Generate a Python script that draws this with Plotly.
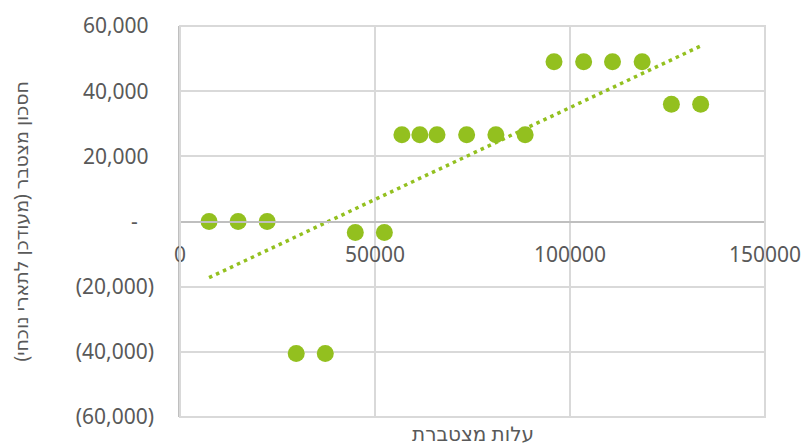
import numpy as np
import plotly.graph_objects as go

# Cumulative cost (x) and cumulative savings (y)
cost = [7450, 14900, 22350, 29800, 37250, 44950, 52400, 56900, 61500, 65900,
        73500, 81000, 88500, 95900, 103500, 110900, 118500, 126000, 133500]
savings = [0, 0, 0, -40500, -40500, -3400, -3400, 26600, 26600, 26600,
           26600, 26600, 26600, 49000, 49000, 49000, 49000, 36000, 36000]

y_tickvals = [60000, 40000, 20000, 0, -20000, -40000, -60000]
y_ticktext = ["60,000\u00a0", "40,000\u00a0", "20,000\u00a0", "-\u00a0\u00a0\u00a0",
              "(20,000)", "(40,000)", "(60,000)"]
x_tickvals = [0, 50000, 100000, 150000]
x_ticktext = ["0", "50000", "100000", "150000"]

x_title = "עלות מצטברת"
y_title = "חסכון מצטבר (מעודכן לתארי נוכחי)"

GREEN = "#93c01f"
GRID = "#d9d9d9"
AXIS = "#bfbfbf"
TEXT = "#595959"
FONT = "Noto Sans, DejaVu Sans, sans-serif"

# Linear trendline over the data's x span
slope, intercept = np.polyfit(cost, savings, 1)
tx = np.array([min(cost), max(cost)])
ty = slope * tx + intercept

fig = go.Figure()
fig.add_trace(go.Scatter(
    x=tx, y=ty, mode="lines",
    line=dict(color=GREEN, width=3.5, dash="3.5px,4.2px"),
    hoverinfo="skip", showlegend=False,
))
fig.add_trace(go.Scatter(
    x=cost, y=savings, mode="markers",
    marker=dict(color=GREEN, size=17, line=dict(width=0)),
    showlegend=False,
))

# Top and bottom edges of the plot frame, drawn as rectangle borders
frame = [
    dict(type="rect", xref="paper", yref="paper", x0=0, x1=1, y0=0, y1=1,
         line=dict(color=GRID, width=2), fillcolor="rgba(0,0,0,0)",
         layer="above"),
]

fig.update_layout(
    width=804, height=446,
    margin=dict(l=179.5, r=38.5, t=26, b=28.5),
    paper_bgcolor="white", plot_bgcolor="white",
    font=dict(family=FONT, color=TEXT, size=21),
    shapes=frame,
    xaxis=dict(
        range=[0, 150000], tickvals=x_tickvals, ticktext=x_ticktext,
        anchor="free", position=0.5,
        showgrid=True, gridcolor=GRID, gridwidth=1.5,
        showline=True, linecolor=AXIS, linewidth=2,
        zeroline=False, ticks="", ticklabelstandoff=14,
        tickfont=dict(size=21, color=TEXT), automargin=False,
    ),
    yaxis=dict(
        range=[-60000, 60000], tickvals=y_tickvals, ticktext=y_ticktext,
        showgrid=True, gridcolor=GRID, gridwidth=1.5,
        showline=True, linecolor=AXIS, linewidth=1.5,
        zeroline=False, ticks="", ticklabelstandoff=20,
        tickfont=dict(size=21, color=TEXT), automargin=False,
    ),
    annotations=[
        dict(text=x_title, xref="paper", yref="paper", x=0.5, y=0,
             yshift=-16, xanchor="center", yanchor="middle", showarrow=False,
             font=dict(size=20, color=TEXT)),
        dict(text=y_title, xref="paper", yref="paper", x=0, y=0.5,
             xshift=-160, xanchor="center", yanchor="middle", showarrow=False,
             textangle=-90, font=dict(size=19, color=TEXT)),
    ],
)

fig.write_html("out.html")
